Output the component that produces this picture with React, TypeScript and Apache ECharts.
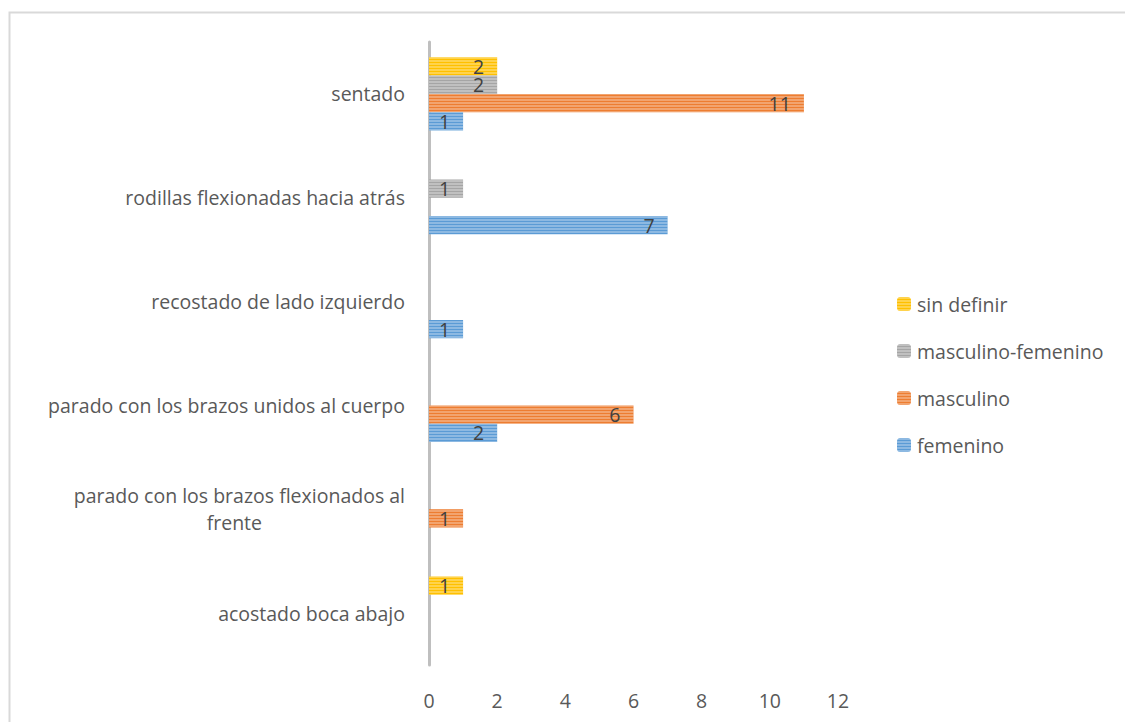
import React, { useEffect, useRef } from "react";
import * as echarts from "echarts";

const categories = [
  "acostado boca abajo",
  "parado con los brazos flexionados al frente",
  "parado con los brazos unidos al cuerpo",
  "recostado de lado izquierdo",
  "rodillas flexionadas hacia atrás",
  "sentado",
];
const femenino = [null, null, 2, 1, 7, 1];
const masculino = [null, 1, 6, null, null, 11];
const masculinoFemenino = [null, null, null, null, 1, 2];
const sinDefinir = [1, null, null, null, null, 2];
const seriesNames = ["femenino", "masculino", "masculino-femenino", "sin definir"];
const xTicks = [0, 2, 4, 6, 8, 10, 12];

const colors = ["#5B9BD5", "#ED7D31", "#A5A5A5", "#FFC000"];
const FONT = "Open Sans";
const FS = 19.5;

export default function App() {
  const ref = useRef<HTMLDivElement>(null);
  useEffect(() => {
    document.body.style.margin = "0";
    const chart = echarts.init(ref.current!, null, { renderer: "svg" });
    const datas = [femenino, masculino, masculinoFemenino, sinDefinir];
    const decal = {
      symbol: "rect",
      symbolSize: 1,
      dashArrayX: [5, 0],
      dashArrayY: [2, 1],
      rotation: 0,
      color: "rgba(255,255,255,0.3)",
    };
    // ECharts places the first series at the top of a horizontal group; Excel puts it at the bottom.
    const order = [3, 2, 1, 0];
    chart.setOption({
      animation: false,
      backgroundColor: "#ffffff",
      textStyle: { fontFamily: FONT },
      graphic: [
        {
          type: "rect",
          shape: { x: 9.5, y: 12.5, width: 1200, height: 800 },
          style: { fill: "none", stroke: "#D9D9D9", lineWidth: 2 },
          silent: true,
        },
      ],
      grid: { left: 429, top: 42, width: 409, height: 623, containLabel: false },
      legend: {
        orient: "vertical",
        left: 892,
        top: 289,
        itemWidth: 14,
        itemHeight: 14,
        itemGap: 27,
        data: ["sin definir", "masculino-femenino", "masculino", "femenino"],
        textStyle: { fontFamily: FONT, fontSize: FS, lineHeight: 18, color: "#595959", padding: [0, 0, 0, 1] },
      },
      xAxis: {
        type: "value",
        min: xTicks[0],
        max: xTicks[xTicks.length - 1],
        interval: 2,
        axisLine: { show: false },
        axisTick: { show: false },
        splitLine: { show: false },
        axisLabel: { fontFamily: FONT, fontSize: FS, color: "#595959", margin: 25 },
      },
      yAxis: {
        type: "category",
        data: categories,
        axisLine: { show: true, lineStyle: { color: "#BFBFBF", width: 3 } },
        axisTick: { show: false },
        axisLabel: {
          fontFamily: FONT,
          fontSize: FS,
          color: "#595959",
          margin: 24,
          formatter: (v: string) =>
            v === "parado con los brazos flexionados al frente"
              ? "{a|parado con los brazos flexionados al}\n{b|frente}"
              : v,
          rich: {
            a: { fontFamily: FONT, fontSize: FS, color: "#595959", lineHeight: 27 },
            b: { fontFamily: FONT, fontSize: FS, color: "#595959", lineHeight: 27, padding: [0, 143, 0, 0] },
          },
        },
      },
      series: order.map((i) => ({
        name: seriesNames[i],
        type: "bar",
        data: datas[i],
        barGap: "0%",
        barCategoryGap: "29.5%",
        itemStyle: { color: colors[i], decal },
        label: {
          show: true,
          position: "insideRight",
          distance: 13,
          fontFamily: FONT,
          fontSize: FS,
          lineHeight: 17,
          color: "#404040",
        },
      })),
    });
    return () => chart.dispose();
  }, []);
  return <div ref={ref} style={{ width: 1125, height: 722 }} />;
}
